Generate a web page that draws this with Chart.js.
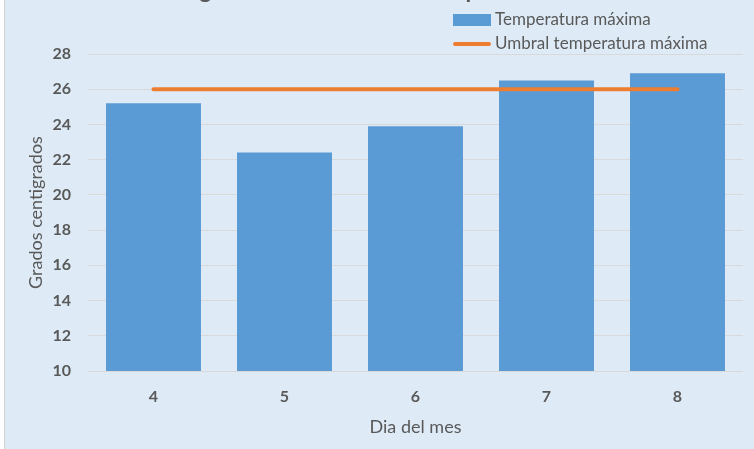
<!DOCTYPE html>
<html>
<head>
<meta charset="utf-8">
<script src="https://cdn.jsdelivr.net/npm/chart.js@4/dist/chart.umd.min.js"></script>
<style>
  html, body { margin: 0; padding: 0; background: #ffffff; }
  #frame { position: absolute; left: 4px; top: 0; width: 750px; height: 449px;
           background: #DEEBF7; border-left: 1px solid #D0D4D8; overflow: hidden; }
  #chart { position: absolute; left: -5px; top: -31px; }
</style>
</head>
<body>
<div id="frame"><canvas id="chart" width="754" height="480"></canvas></div>
<script>
// data
const days = ['4', '5', '6', '7', '8'];
const tempMax = [25.2, 22.4, 23.9, 26.5, 26.9];
const umbral = [26, 26, 26, 26, 26];
const yMin = 10, yMax = 28, yStep = 2;

const TEXT = '#595959';
const FONT = 'Lato, "Open Sans", sans-serif';
const TITLE = 'Seguimiento diario de la temperatura máxima';

// title (cut off by the top edge in the original) + vertical legend in the upper right
const chrome = {
  id: 'chrome',
  afterDraw(chart) {
    const ctx = chart.ctx;
    ctx.save();
    ctx.font = 'bold 23px ' + FONT;
    ctx.fillStyle = TEXT;
    ctx.textAlign = 'center';
    ctx.textBaseline = 'alphabetic';
    ctx.fillText(TITLE, 406, 29);

    const x = 453, rows = [51, 75];
    ctx.font = '17px ' + FONT;
    ctx.textAlign = 'left';
    ctx.textBaseline = 'middle';
    chart.data.datasets.forEach((ds, i) => {
      const y = rows[i];
      if (ds.type === 'line') {
        ctx.strokeStyle = ds.borderColor;
        ctx.lineWidth = 4;
        ctx.lineCap = 'round';
        ctx.beginPath();
        ctx.moveTo(x + 2, y);
        ctx.lineTo(x + 36, y);
        ctx.stroke();
      } else {
        ctx.fillStyle = ds.backgroundColor;
        ctx.fillRect(x, y - 6, 38, 12);
      }
      ctx.fillStyle = TEXT;
      ctx.fillText(ds.label, x + 42, y);
    });
    ctx.restore();
  }
};

new Chart(document.getElementById('chart'), {
  data: {
    labels: days,
    datasets: [
      {
        type: 'bar',
        label: 'Temperatura máxima',
        data: tempMax,
        backgroundColor: '#5B9BD5',
        categoryPercentage: 1,
        barPercentage: 0.725,
        order: 1,
      },
      {
        type: 'line',
        label: 'Umbral temperatura máxima',
        data: umbral,
        borderColor: '#ED7D31',
        borderWidth: 4,
        borderCapStyle: 'round',
        pointRadius: 0,
        order: 0,
      },
    ],
  },
  options: {
    responsive: false,
    devicePixelRatio: 1,
    animation: false,
    layout: { padding: { top: 85, right: 11, bottom: 0, left: 0 } },
    plugins: {
      legend: { display: false },
      tooltip: { enabled: false },
      title: { display: false },
    },
    scales: {
      x: {
        grid: { display: false, drawTicks: false },
        border: { display: false },
        ticks: { color: TEXT, padding: 16, font: { family: FONT, size: 16, weight: 'bold' } },
        title: { display: true, text: 'Dia del mes', color: TEXT,
                 font: { family: FONT, size: 18 }, padding: { top: 0, bottom: 11 } },
        afterFit(scale) { scale.height = 78; },
      },
      y: {
        min: yMin,
        max: yMax,
        grid: { color: '#D9D9D9', lineWidth: 1, drawTicks: false },
        border: { display: false },
        ticks: { stepSize: yStep, color: TEXT, padding: 17, font: { family: FONT, size: 16, weight: 'bold' } },
        title: { display: true, text: 'Grados centigrados', color: TEXT,
                 font: { family: FONT, size: 18 }, padding: { top: 25, bottom: 0 } },
        afterFit(scale) { scale.width = 88; },
      },
    },
  },
  plugins: [chrome],
});
</script>
</body>
</html>
